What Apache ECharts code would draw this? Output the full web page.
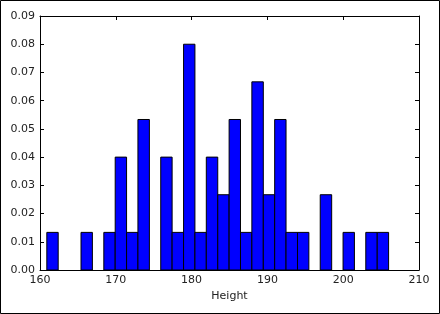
<!DOCTYPE html>
<html>
<head>
<meta charset="utf-8">
<script src="https://cdn.jsdelivr.net/npm/echarts@6/dist/echarts.min.js"></script>
<style>html,body{margin:0;padding:0;background:#fff;}#c{width:440px;height:314px;}</style>
</head>
<body>
<div id="c"></div>
<script>
// Histogram bin edges (Height) and density values
var binEdges = [160.90,162.40,163.91,165.41,166.91,168.42,169.92,171.42,172.92,174.43,
  175.93,177.43,178.94,180.44,181.94,183.45,184.95,186.45,187.95,189.46,
  190.96,192.46,193.97,195.47,196.97,198.48,199.98,201.48,202.98,204.49,205.99];
var densities = [0.01333,0,0,0.01333,0,0.01333,0.04,0.01333,0.05333,0,
  0.04,0.01333,0.08,0.01333,0.04,0.02667,0.05333,0.01333,0.06667,0.02667,
  0.05333,0.01333,0.01333,0,0.02667,0,0.01333,0,0.01333,0.01333];
var xTicks = [160,170,180,190,200,210];
var yTicks = [0,0.01,0.02,0.03,0.04,0.05,0.06,0.07,0.08,0.09];
var xLabel = 'Height';

var data = [];
for (var i = 0; i < densities.length; i++) {
  if (densities[i] > 0) data.push([binEdges[i], binEdges[i+1], densities[i]]);
}
var font = 'DejaVu Sans';
var chart = echarts.init(document.getElementById('c'));
var axisCommonX = {
  type: 'value', min: xTicks[0], max: xTicks[xTicks.length-1], interval: 10,
  axisLine: {show: true, onZero: false, lineStyle: {color: '#000', width: 1}},
  axisTick: {show: true, inside: true, length: 4, lineStyle: {color: '#000'}},
  splitLine: {show: false}
};
var axisCommonY = {
  type: 'value', min: yTicks[0], max: yTicks[yTicks.length-1], interval: 0.01,
  axisLine: {show: true, onZero: false, lineStyle: {color: '#000', width: 1}},
  axisTick: {show: true, inside: true, length: 4, lineStyle: {color: '#000'}},
  splitLine: {show: false}
};
chart.setOption({
  animation: false,
  backgroundColor: '#fff',
  grid: {left: 40, right: 21, top: 16, bottom: 44, containLabel: false},
  xAxis: [
    Object.assign({}, axisCommonX, {
      position: 'bottom', name: xLabel, nameLocation: 'middle', nameGap: 21,
      nameTextStyle: {fontFamily: font, fontSize: 11, color: '#222'},
      axisLabel: {fontFamily: font, fontSize: 11, color: '#222', margin: 5}
    }),
    Object.assign({}, axisCommonX, {position: 'top', axisLabel: {show: false}})
  ],
  yAxis: [
    Object.assign({}, axisCommonY, {
      position: 'left',
      axisLabel: {fontFamily: font, fontSize: 11, color: '#222', margin: 5,
        formatter: function(v){ return v.toFixed(2); }}
    }),
    Object.assign({}, axisCommonY, {position: 'right', axisLabel: {show: false}})
  ],
  graphic: [{
    type: 'rect', shape: {x: 0.5, y: 0.5, width: 439, height: 313},
    style: {fill: 'none', stroke: '#000', lineWidth: 1}, z: 100
  }],
  series: [{
    type: 'custom',
    xAxisIndex: 0, yAxisIndex: 0,
    data: data,
    encode: {x: [0, 1], y: 2},
    renderItem: function(params, api) {
      var p0 = api.coord([api.value(0), 0]);
      var p1 = api.coord([api.value(1), api.value(2)]);
      return {
        type: 'rect',
        shape: {x: p0[0], y: p1[1], width: p1[0] - p0[0], height: p0[1] - p1[1]},
        style: {fill: '#0000ff', stroke: '#000', lineWidth: 1}
      };
    }
  }]
});
</script>
</body>
</html>
